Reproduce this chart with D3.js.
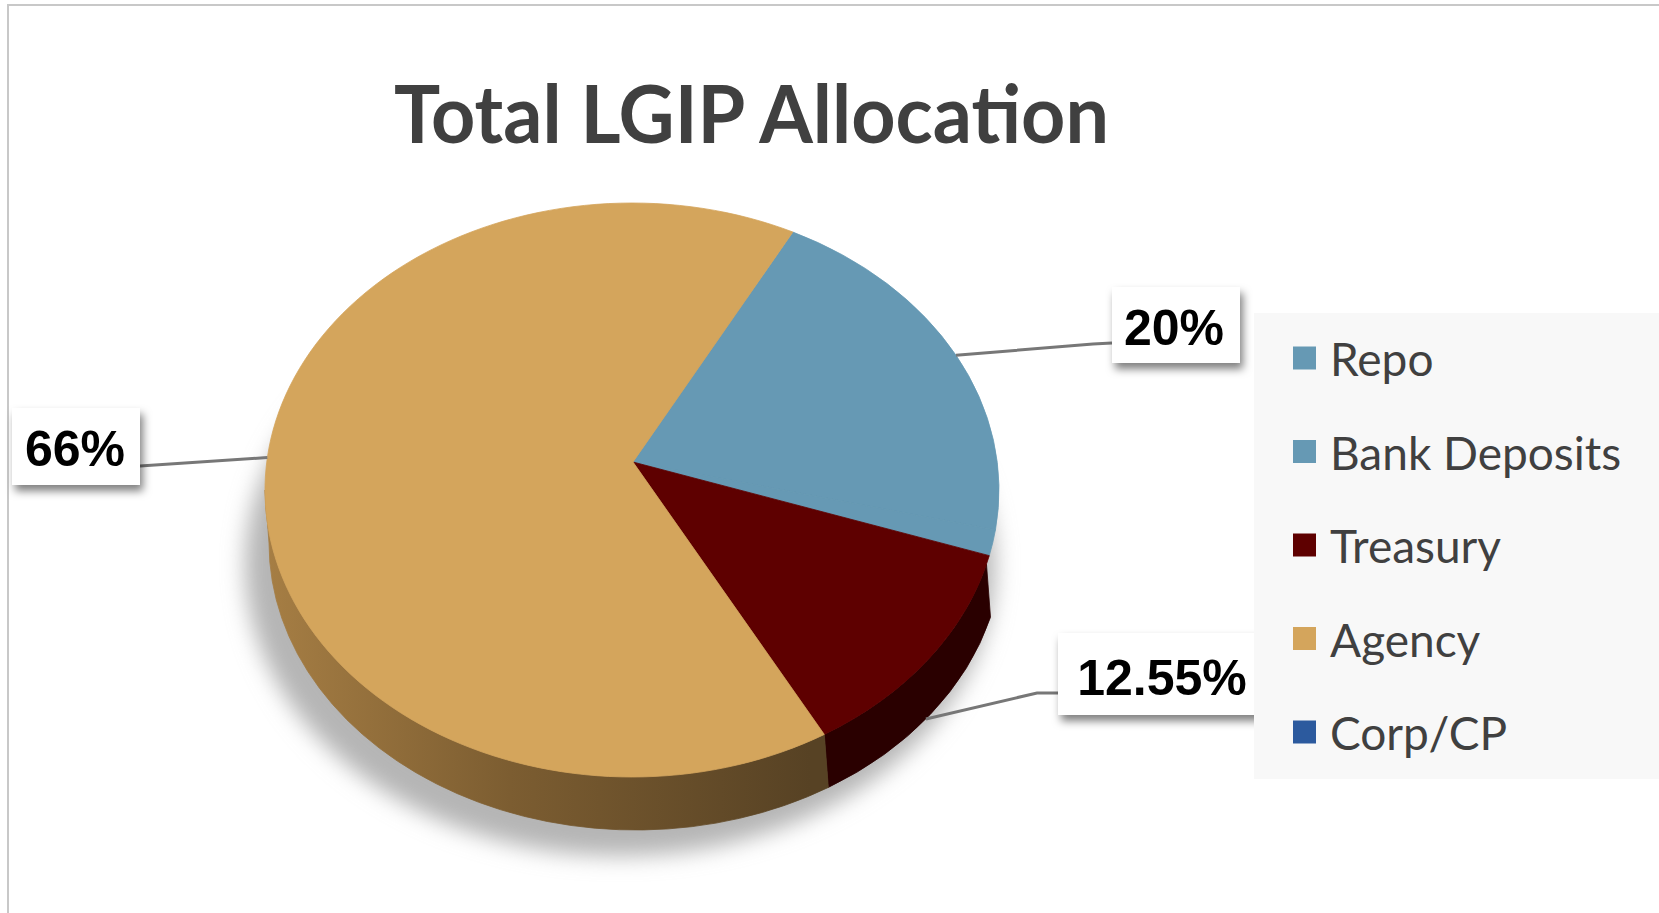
<!DOCTYPE html>
<html>
<head>
<meta charset="utf-8">
<script src="https://cdn.jsdelivr.net/npm/d3@7"></script>
<style>
  body { margin: 0; background: #fff; }
  svg { display: block; }
</style>
</head>
<body>
<svg></svg>
<script>
// chart data
let categories = ['Repo', 'Bank Deposits', 'Treasury', 'Agency', 'Corp/CP']
let values = [20, 1.45, 12.55, 66, 0]
let labelTexts = ['20%', '', '12.55%', '66%', '']
let colors = ['#6699b4', '#6699b4', '#5e0000', '#d4a55c', '#2c5a9e']
let sideColors = ['#4d7d96', '#4d7d96', '#2a0000', 'url(#agencySide)', '#1d3d6e']

let w = 1659
let h = 913

// ellipse geometry for the tilted pie
let cx = 632
let cy = 490
let rx = 367
let ry = 287
let apex = [633, 462]
let depth = 53
let startDeg = 26
let sideFrom = 105 * Math.PI / 180   // side wall shows from here round to the left edge
let sideTo = 270 * Math.PI / 180

// callout layout: box, elbow points, where the leader touches the pie
let callouts = {
    'Repo':     { box: [1112, 287, 128, 76], text: [1174, 345], elbow: [[1093, 344], [1112, 343]], nudge: 0, bottom: false },
    'Treasury': { box: [1058, 633, 209, 82], text: [1162, 695], elbow: [[1037, 693], [1058, 693]], nudge: 2, bottom: true },
    'Agency':   { box: [12, 408, 128, 77], text: [75, 466], elbow: [[140, 466]], nudge: 9.3, bottom: false }
}

let svg = d3.select('svg')
let defs

let pt = (t, dy = 0, dx = 0) => [cx + rx * Math.sin(t) + dx, cy - ry * Math.cos(t) + dy]

let drawCanvas = () => {
    svg.attr('width', w).attr('height', h)
    defs = svg.append('defs')

    let g = defs.append('linearGradient')
        .attr('id', 'agencySide')
        .attr('gradientUnits', 'userSpaceOnUse')
        .attr('x1', 265).attr('y1', 0).attr('x2', 810).attr('y2', 0)
    g.append('stop').attr('offset', '0%').attr('stop-color', '#a67e44')
    g.append('stop').attr('offset', '45%').attr('stop-color', '#7c5d31')
    g.append('stop').attr('offset', '100%').attr('stop-color', '#574224')

    defs.append('filter').attr('id', 'blur')
        .attr('x', '-20%').attr('y', '-20%').attr('width', '140%').attr('height', '140%')
        .append('feGaussianBlur').attr('stdDeviation', 11)

    defs.append('filter').attr('id', 'boxShadow')
        .attr('x', '-20%').attr('y', '-20%').attr('width', '150%').attr('height', '160%')
        .append('feDropShadow')
        .attr('dx', 3).attr('dy', 6).attr('stdDeviation', 4)
        .attr('flood-color', '#000').attr('flood-opacity', 0.5)

    // frame
    svg.append('rect')
        .attr('x', 8).attr('y', 5)
        .attr('width', w + 20).attr('height', h + 20)
        .attr('fill', 'none')
        .attr('stroke', '#c8c8c8')
        .attr('stroke-width', 2)
}

let drawTitle = () => {
    svg.append('text')
        .attr('x', 394)
        .attr('y', 143)
        .attr('font-family', 'Lato, "Open Sans", sans-serif')
        .attr('font-weight', 'bold')
        .attr('font-size', '80px')
        .attr('fill', '#404040')
        .attr('textLength', 715)
        .attr('lengthAdjust', 'spacingAndGlyphs')
        .text('Total LGIP Allocation')
}

let makePie = () => {
    let rad = startDeg * Math.PI / 180
    return d3.pie().sort(null).value((d) => d)
        .startAngle(rad).endAngle(rad + 2 * Math.PI)(values)
}

let drawPie = (arcs) => {
    // soft shadow
    svg.append('ellipse')
        .attr('cx', cx - 12).attr('cy', cy + depth + 22)
        .attr('rx', rx + 8).attr('ry', ry + 4)
        .attr('fill', '#b5b5b5')
        .attr('filter', 'url(#blur)')

    // side walls, front part only
    let sides = svg.append('g')
    arcs.forEach((d, i) => {
        let a0 = Math.max(d.startAngle, sideFrom)
        let a1 = Math.min(d.endAngle, sideTo)
        if (a1 <= a0) return
        let s = pt(a0), e = pt(a1), eb = pt(a1, depth, 4), sb = pt(a0, depth, 4)
        let large = (a1 - a0) > Math.PI ? 1 : 0
        let str = `M${s[0]},${s[1]}` +
            `A${rx},${ry} 0 ${large} 1 ${e[0]},${e[1]}` +
            `L${eb[0]},${eb[1]}` +
            `A${rx},${ry} 0 ${large} 0 ${sb[0]},${sb[1]}Z`
        sides.append('path')
            .attr('d', str)
            .attr('fill', sideColors[i])
            .attr('stroke', sideColors[i])
            .attr('stroke-width', 0.8)
    })

    // top faces
    svg.append('g')
        .selectAll('path')
        .data(arcs.filter((d) => d.value > 0))
        .enter()
        .append('path')
        .attr('d', (d) => {
            let s = pt(d.startAngle), e = pt(d.endAngle)
            let large = (d.endAngle - d.startAngle) > Math.PI ? 1 : 0
            return `M${apex[0]},${apex[1]}L${s[0]},${s[1]}` +
                `A${rx},${ry} 0 ${large} 1 ${e[0]},${e[1]}Z`
        })
        .attr('fill', (d) => colors[d.index])
        .attr('stroke', (d) => colors[d.index])
        .attr('stroke-width', 0.8)
        .attr('stroke-linejoin', 'round')
}

let drawCallouts = (arcs) => {
    let g = svg.append('g')
    arcs.forEach((d, i) => {
        let c = callouts[categories[i]]
        if (!c) return
        let mid = (d.startAngle + d.endAngle) / 2 + c.nudge * Math.PI / 180
        let start = pt(mid, c.bottom ? depth : 0, c.bottom ? 4 : 0)
        let line = d3.line()([start].concat(c.elbow))
        g.append('path')
            .attr('d', line)
            .attr('fill', 'none')
            .attr('stroke', '#777')
            .attr('stroke-width', 3)
        g.append('rect')
            .attr('x', c.box[0]).attr('y', c.box[1])
            .attr('width', c.box[2]).attr('height', c.box[3])
            .attr('fill', '#fff')
            .attr('filter', 'url(#boxShadow)')
        g.append('text')
            .attr('x', c.text[0]).attr('y', c.text[1])
            .attr('text-anchor', 'middle')
            .attr('font-family', '"Liberation Sans", Arial, sans-serif')
            .attr('font-weight', 'bold')
            .attr('font-size', '50px')
            .attr('fill', '#000')
            .text(labelTexts[i])
    })
}

let drawLegend = () => {
    svg.append('rect')
        .attr('x', 1254).attr('y', 313)
        .attr('width', w - 1254).attr('height', 466)
        .attr('fill', '#f8f8f8')

    let y = d3.scalePoint()
        .domain(categories)
        .range([358, 732])

    let items = svg.append('g')
        .selectAll('g')
        .data(categories)
        .enter()
        .append('g')
        .attr('transform', (d) => 'translate(1293,' + y(d) + ')')

    items.append('rect')
        .attr('x', 0).attr('y', -11.5)
        .attr('width', 23).attr('height', 23)
        .attr('fill', (d, i) => colors[i])

    items.append('text')
        .attr('x', 37).attr('y', 18)
        .attr('font-family', 'Lato, sans-serif')
        .attr('font-size', '46px')
        .attr('fill', '#404040')
        .text((d) => d)
}

drawCanvas()
drawTitle()
let arcs = makePie()
drawPie(arcs)
drawCallouts(arcs)
drawLegend()
</script>
</body>
</html>
